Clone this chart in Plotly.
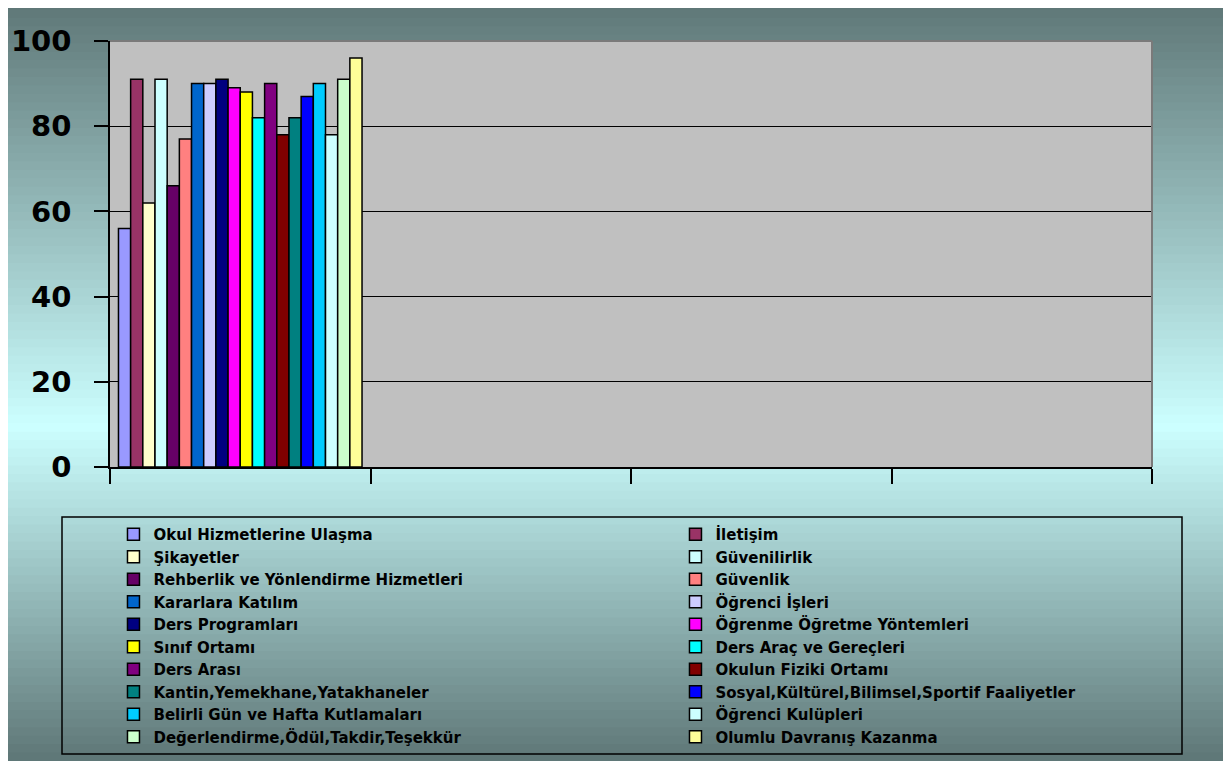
import plotly.graph_objects as go

categories = ["1", "2", "3", "4"]

series_names = [
    "Okul Hizmetlerine Ulaşma", "İletişim", "Şikayetler", "Güvenilirlik",
    "Rehberlik ve Yönlendirme Hizmetleri", "Güvenlik", "Kararlara Katılım",
    "Öğrenci İşleri", "Ders Programları", "Öğrenme Öğretme Yöntemleri",
    "Sınıf Ortamı", "Ders Araç ve Gereçleri", "Ders Arası",
    "Okulun Fiziki Ortamı", "Kantin,Yemekhane,Yatakhaneler",
    "Sosyal,Kültürel,Bilimsel,Sportif Faaliyetler",
    "Belirli Gün ve Hafta Kutlamaları", "Öğrenci Kulüpleri",
    "Değerlendirme,Ödül,Takdir,Teşekkür", "Olumlu Davranış Kazanma",
]

series_values = [56, 91, 62, 91, 66, 77, 90, 90, 91, 89,
                 88, 82, 90, 78, 82, 87, 90, 78, 91, 96]

series_colors = [
    "#9999FF", "#993366", "#FFFFCC", "#CCFFFF", "#660066", "#FF8080",
    "#0066CC", "#CCCCFF", "#000080", "#FF00FF", "#FFFF00", "#00FFFF",
    "#800080", "#800000", "#008080", "#0000FF", "#00CCFF", "#CCFFFF",
    "#CCFFCC", "#FFFF99",
]

y_ticks = [0, 20, 40, 60, 80, 100]

# the page places the figure 8px from the top-left corner (body margin)
OFF = 8
W, H = 1231 - OFF, 761 - OFF
# plot area in screen pixels: x 110..1152, y 41..467
L, T = 110 - OFF, 41 - OFF
R = W - (1152 - OFF)
B = H - (467 - OFF)
PW, PH = W - L - R, H - T - B


def px_to_paper_x(px):
    return (px - OFF - L) / PW


def px_to_paper_y(py):
    return (H - B - (py - OFF)) / PH


fig = go.Figure()
for name, val, col in zip(series_names, series_values, series_colors):
    fig.add_trace(go.Bar(
        x=categories, y=[val, None, None, None], name=name,
        marker=dict(color=col, line=dict(color="black", width=1.5)),
    ))

# background gradient (dark -> light cyan -> dark)
dark = (94, 118, 118)
light = (204, 255, 255)
mid = 0.56
shapes = []
n = 90
y_top, y_bot = 1, 761
for i in range(n):
    f0 = i / n
    f1 = (i + 1) / n
    fc = (f0 + f1) / 2
    if fc < mid:
        t = fc / mid
        c0, c1 = dark, light
    else:
        t = (fc - mid) / (1 - mid)
        c0, c1 = light, dark
    c = tuple(round(c0[k] + (c1[k] - c0[k]) * t) for k in range(3))
    py0 = y_top + f0 * (y_bot - y_top)
    py1 = min(y_bot, y_top + f1 * (y_bot - y_top) + 2)
    shapes.append(dict(
        type="rect", xref="paper", yref="paper", layer="below",
        x0=px_to_paper_x(4), x1=px_to_paper_x(1227),
        y0=px_to_paper_y(py1), y1=px_to_paper_y(py0),
        fillcolor="rgb(%d,%d,%d)" % c, line=dict(width=0),
    ))

# plot area fill
shapes.append(dict(type="rect", xref="x domain", yref="y domain", layer="below",
                   x0=0, x1=1, y0=0, y1=1, fillcolor="#C0C0C0", line=dict(width=0)))
# plot area top/right border (gray)
shapes.append(dict(type="line", xref="x domain", yref="y domain", layer="above",
                   x0=0, x1=1, y0=1, y1=1, line=dict(color="#7A7A7A", width=2)))
shapes.append(dict(type="line", xref="x domain", yref="y domain", layer="above",
                   x0=1, x1=1, y0=0, y1=1, line=dict(color="#7A7A7A", width=2)))
# legend box
shapes.append(dict(type="rect", xref="paper", yref="paper", layer="above",
                   x0=px_to_paper_x(62), x1=px_to_paper_x(1182),
                   y0=px_to_paper_y(754), y1=px_to_paper_y(517),
                   fillcolor="rgba(0,0,0,0)", line=dict(color="black", width=1.5)))

fig.update_layout(
    width=W, height=H,
    margin=dict(l=L, r=R, t=T, b=B, pad=0, autoexpand=False),
    paper_bgcolor="white",
    plot_bgcolor="#C0C0C0",
    barmode="group", bargap=0.065, bargroupgap=0,
    font=dict(family="DejaVu Sans", color="black"),
    showlegend=True,
    legend=dict(
        orientation="h", x=-0.0005, xanchor="left",
        y=px_to_paper_y(514), yanchor="top",
        entrywidth=517, entrywidthmode="pixels",
        bgcolor="rgba(0,0,0,0)", borderwidth=4, bordercolor="rgba(0,0,0,0)",
        font=dict(family="DejaVu Sans", size=15, color="black", weight="bold"),
        traceorder="normal",
    ),
    shapes=shapes,
    xaxis=dict(
        type="category", categoryorder="array", categoryarray=categories,
        range=[-0.5, 3.5], showticklabels=False, ticks="outside",
        tickson="boundaries", ticklen=15, tickwidth=1.5, tickcolor="black",
        showline=True, linecolor="black", linewidth=1.5, showgrid=False,
        zeroline=False, fixedrange=True,
    ),
    yaxis=dict(
        range=[0, 100], tickvals=y_ticks, ticks="outside", ticklen=14,
        tickwidth=1.5, tickcolor="black", showline=True, linecolor="black",
        linewidth=1.5, showgrid=True, gridcolor="black", gridwidth=1,
        zeroline=False, ticklabelstandoff=17,
        tickfont=dict(family="DejaVu Sans", size=29, color="black", weight="bold"),
    ),
)

fig.write_html("out.html")
